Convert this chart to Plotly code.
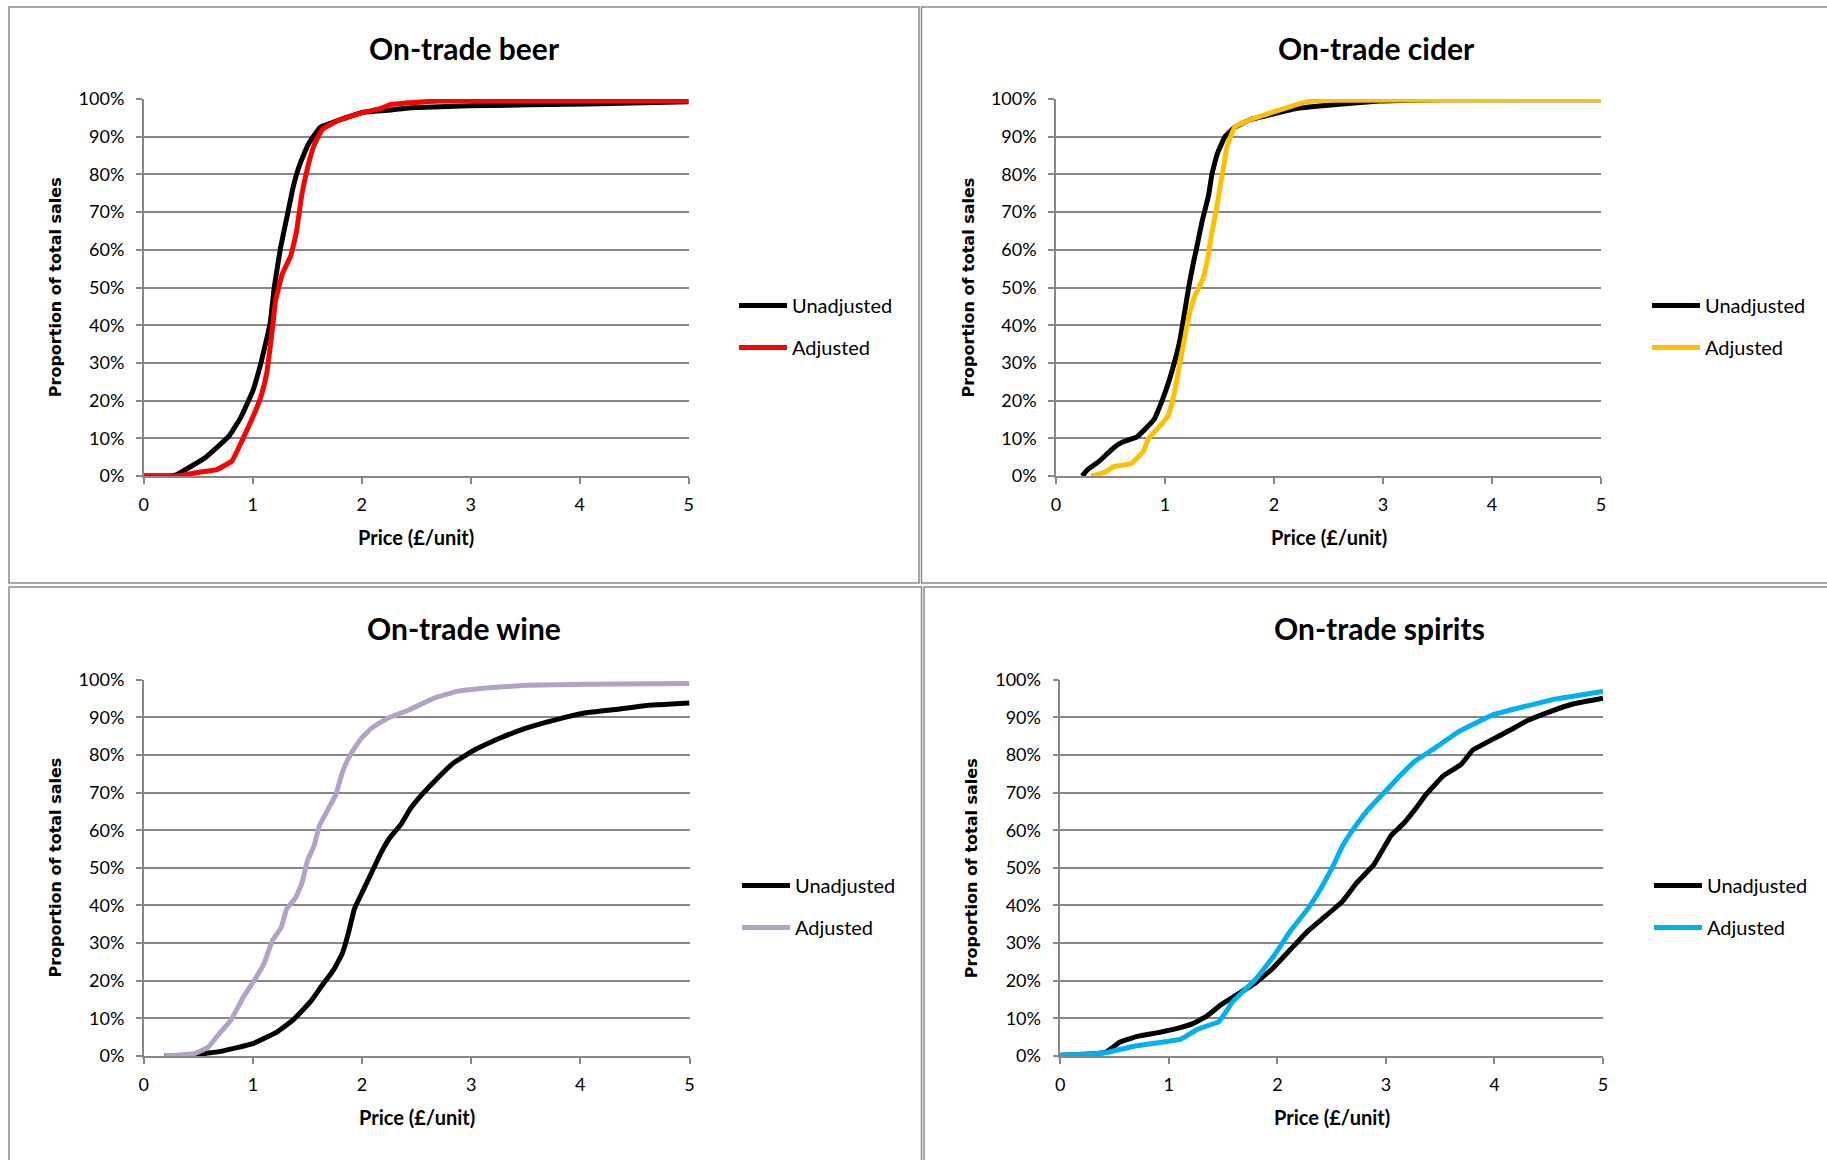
import plotly.graph_objects as go

W, H = 1827, 1160

# ---------------- data (price £/unit, cumulative % of sales) ----------------
beer_unadj_x = [0, 0.25, 0.3, 0.57, 0.78, 0.89, 1.0, 1.08, 1.16, 1.2, 1.255, 1.32, 1.37, 1.43, 1.51, 1.62, 1.8, 2.02, 2.24, 2.45, 2.99, 4.07, 5]
beer_unadj_y = [0, 0, 0.3, 5, 10.5, 15.5, 22.5, 30.5, 40.5, 50.5, 60.5, 69.5, 76.5, 82.5, 88, 92.5, 94.5, 96.5, 97, 97.7, 98.2, 98.7, 99.3]
beer_adj_x = [0, 0.3, 0.51, 0.67, 0.81, 0.92, 1.0, 1.08, 1.13, 1.17, 1.21, 1.27, 1.35, 1.4, 1.45, 1.51, 1.56, 1.64, 1.8, 2.02, 2.18, 2.26, 2.45, 2.72, 5]
beer_adj_y = [0, 0, 1, 1.7, 4, 10.5, 15.5, 21.5, 27.5, 36.5, 46.5, 53.5, 58.5, 64.5, 74.5, 82.5, 87.5, 92, 94.5, 96.5, 97.5, 98.5, 99, 99.5, 99.5]

cider_unadj_x = [0.24, 0.29, 0.4, 0.53, 0.61, 0.74, 0.82, 0.9, 0.98, 1.04, 1.09, 1.14, 1.18, 1.22, 1.26, 1.29, 1.34, 1.4, 1.43, 1.48, 1.55, 1.64, 1.78, 1.99, 2.2, 2.47, 3.0, 3.53, 5]
cider_unadj_y = [0, 1.7, 4, 7.5, 9, 10.3, 12.5, 15, 20.5, 25.5, 30.5, 36.5, 43.5, 50.5, 56.5, 60.5, 67.5, 74.5, 80, 85.5, 90, 92.5, 94.5, 96, 97.5, 98.3, 99.5, 99.8, 99.8]
cider_adj_x = [0.32, 0.45, 0.53, 0.69, 0.8, 0.85, 0.93, 1.03, 1.09, 1.14, 1.18, 1.22, 1.27, 1.35, 1.39, 1.43, 1.47, 1.51, 1.54, 1.57, 1.64, 1.78, 1.99, 2.15, 2.31, 2.47, 5]
cider_adj_y = [0, 1, 2.5, 3.3, 6.5, 10, 12.5, 16, 22.5, 30.5, 36.5, 42.5, 47.5, 52.5, 57.5, 64.5, 70.5, 77.5, 82.5, 87.5, 92.5, 94.5, 96.5, 98, 99.3, 99.7, 99.8]

wine_unadj_x = [0.19, 0.46, 0.72, 0.99, 1.21, 1.37, 1.53, 1.64, 1.74, 1.82, 1.88, 1.93, 2.01, 2.1, 2.17, 2.25, 2.36, 2.44, 2.55, 2.68, 2.84, 3.03, 3.25, 3.51, 3.78, 4.05, 4.32, 4.59, 5]
wine_unadj_y = [0, 0.3, 1.3, 3.2, 6.2, 9.6, 14.5, 19, 22.9, 27.3, 33.2, 39.1, 44, 49.5, 53.8, 57.8, 61.7, 65.6, 69.5, 73.5, 77.9, 81.3, 84.3, 87.2, 89.4, 91.2, 92.1, 93.1, 93.8]
wine_adj_x = [0.19, 0.46, 0.59, 0.7, 0.8, 0.91, 1.02, 1.1, 1.18, 1.26, 1.31, 1.39, 1.45, 1.5, 1.56, 1.61, 1.69, 1.76, 1.82, 1.89, 1.99, 2.09, 2.23, 2.44, 2.66, 2.87, 3.14, 3.51, 4.05, 5]
wine_adj_y = [0, 0.6, 2.3, 6.2, 9.6, 15.5, 20.4, 24.4, 30.7, 34.2, 39.1, 42, 46, 51.9, 55.8, 61.2, 65.6, 69.5, 75.4, 79.9, 84.3, 87.2, 89.7, 92.1, 95.1, 96.9, 97.8, 98.5, 98.8, 99]

spirits_unadj_x = [0, 0.31, 0.42, 0.55, 0.71, 0.9, 1.06, 1.22, 1.35, 1.48, 1.64, 1.8, 1.96, 2.12, 2.28, 2.44, 2.6, 2.73, 2.89, 2.97, 3.05, 3.16, 3.27, 3.37, 3.53, 3.69, 3.8, 3.96, 4.15, 4.31, 4.52, 4.73, 5]
spirits_unadj_y = [0.2, 0.6, 1, 3.7, 5.2, 6.2, 7.2, 8.6, 10.6, 13.6, 16.5, 19.5, 23.4, 28.3, 33.2, 37.1, 41.1, 46, 50.9, 54.8, 58.7, 61.7, 65.6, 69.5, 74.5, 77.4, 81.3, 83.8, 86.7, 89.2, 91.6, 93.6, 95.1]
spirits_adj_x = [0, 0.31, 0.44, 0.68, 0.9, 1.11, 1.27, 1.46, 1.59, 1.8, 1.96, 2.12, 2.28, 2.41, 2.52, 2.6, 2.71, 2.84, 3.0, 3.13, 3.27, 3.45, 3.67, 3.99, 4.31, 4.57, 5]
spirits_adj_y = [0.2, 0.6, 1, 2.6, 3.5, 4.5, 7.2, 9.1, 14.5, 20.4, 26.3, 33.2, 39.1, 45, 50.9, 55.8, 60.7, 65.6, 70.5, 74.5, 78.4, 81.8, 86.2, 90.7, 93.1, 94.9, 96.9]

titles = ["On-trade beer", "On-trade cider", "On-trade wine", "On-trade spirits"]
series_names = ["Unadjusted", "Adjusted"]
adj_colors = ["#FF0000", "#FFC000", "#B3A2C7", "#00B0F0"]
x_ticks = [0, 1, 2, 3, 4, 5]
y_ticks = [0, 10, 20, 30, 40, 50, 60, 70, 80, 90, 100]
y_tick_labels = ["0%", "10%", "20%", "30%", "40%", "50%", "60%", "70%", "80%", "90%", "100%"]
x_title = "Price (£/unit)"
y_title = "Proportion of total sales"

panels_data = [
    (beer_unadj_x, beer_unadj_y, beer_adj_x, beer_adj_y),
    (cider_unadj_x, cider_unadj_y, cider_adj_x, cider_adj_y),
    (wine_unadj_x, wine_unadj_y, wine_adj_x, wine_adj_y),
    (spirits_unadj_x, spirits_unadj_y, spirits_adj_x, spirits_adj_y),
]

# ---------------- layout geometry (pixels) ----------------
plot_px = [
    (143.7, 688.7, 99, 476),
    (1056.0, 1601.0, 99, 476),
    (143.7, 689.5, 679.7, 1056),
    (1060.3, 1603.0, 679.7, 1056),
]
frames_px = [
    (9, 7, 919, 583),
    (921.5, 7, 1830, 583),
    (9, 587, 921.5, 1165),
    (924, 587, 1830, 1165),
]
title_pos = [(464, 48), (1376, 48), (464, 628), (1379, 628)]
legend_text_px = [(792, 305), (1705, 305), (795, 885), (1707, 885)]

FONT = "Lato, 'Open Sans', sans-serif"
GRID = "#878787"
LEG_ITEM_W = 48

def px_x(v):
    return v / W

def px_y(v):
    return 1 - v / H

fig = go.Figure()
layout = dict(
    width=W, height=H,
    margin=dict(l=0, r=0, t=0, b=0, pad=0, autoexpand=False),
    paper_bgcolor="white", plot_bgcolor="white",
    font=dict(family=FONT, size=18, color="black"),
    showlegend=True,
)
annotations = []
shapes = []

for i in range(4):
    sfx = "" if i == 0 else str(i + 1)
    ux, uy, ax_, ay = panels_data[i]
    xl, xr, yt, yb = plot_px[i]
    leg = "legend" + sfx
    fig.add_trace(go.Scatter(
        x=ux, y=uy, mode="lines", name=series_names[0],
        line=dict(color="black", width=5, shape="spline", smoothing=0.3),
        xaxis="x" + sfx, yaxis="y" + sfx, legend=leg, legendgroup=f"u{i}",
    ))
    fig.add_trace(go.Scatter(
        x=ax_, y=ay, mode="lines", name=series_names[1],
        line=dict(color=adj_colors[i], width=5, shape="spline", smoothing=0.3),
        xaxis="x" + sfx, yaxis="y" + sfx, legend=leg, legendgroup=f"a{i}",
    ))
    layout["xaxis" + sfx] = dict(
        domain=[px_x(xl), px_x(xr)], range=[0, 5], tickvals=x_ticks,
        showgrid=False, zeroline=False, showline=True, linecolor=GRID, linewidth=1.5,
        ticks="outside", ticklen=6, tickcolor=GRID, tickwidth=1.5,
        tickfont=dict(family=FONT, size=18), ticklabelstandoff=6,
        anchor="y" + sfx, fixedrange=True, automargin=False,
    )
    layout["yaxis" + sfx] = dict(
        domain=[px_y(yb), px_y(yt)], range=[0, 100],
        tickmode="array", tickvals=y_ticks, ticktext=y_tick_labels,
        showgrid=True, gridcolor=GRID, gridwidth=1.5, zeroline=False,
        showline=True, linecolor=GRID, linewidth=1.5,
        ticks="outside", ticklen=6, tickcolor=GRID, tickwidth=1.5,
        tickfont=dict(family=FONT, size=18), ticklabelstandoff=8,
        anchor="x" + sfx, fixedrange=True, automargin=False,
    )
    lx, ly = legend_text_px[i]
    layout[leg] = dict(
        x=px_x(lx - LEG_ITEM_W - 10), y=px_y(ly - 19), xanchor="left", yanchor="top",
        bgcolor="rgba(0,0,0,0)", font=dict(family=FONT, size=20),
        tracegroupgap=13, traceorder="grouped", itemclick=False,
        itemwidth=LEG_ITEM_W,
    )
    tx, ty = title_pos[i]
    annotations.append(dict(
        text=f"<b>{titles[i]}</b>", x=px_x(tx), y=px_y(ty), xref="paper", yref="paper",
        showarrow=False, xanchor="center", yanchor="middle",
        font=dict(family=FONT, size=30, color="black"),
    ))
    annotations.append(dict(
        text=f"<b>{x_title}</b>", x=px_x((xl + xr) / 2), y=px_y(yb + 61), xref="paper", yref="paper",
        showarrow=False, xanchor="center", yanchor="middle",
        font=dict(family=FONT, size=20, color="black"),
    ))
    annotations.append(dict(
        text=f"<b>{y_title}</b>", x=px_x(xl - 88), y=px_y((yt + yb) / 2), xref="paper", yref="paper",
        showarrow=False, xanchor="center", yanchor="middle", textangle=-90,
        font=dict(family="DejaVu Sans, Verdana, sans-serif", size=16, color="black"),
    ))
    fx0, fy0, fx1, fy1 = frames_px[i]
    shapes.append(dict(
        type="rect", xref="paper", yref="paper",
        x0=px_x(fx0), x1=px_x(fx1), y0=px_y(fy1), y1=px_y(fy0),
        line=dict(color="#8a8a8a", width=1.5), layer="below",
    ))

layout["annotations"] = annotations
layout["shapes"] = shapes
fig.update_layout(**layout)
fig.write_html("out.html")
